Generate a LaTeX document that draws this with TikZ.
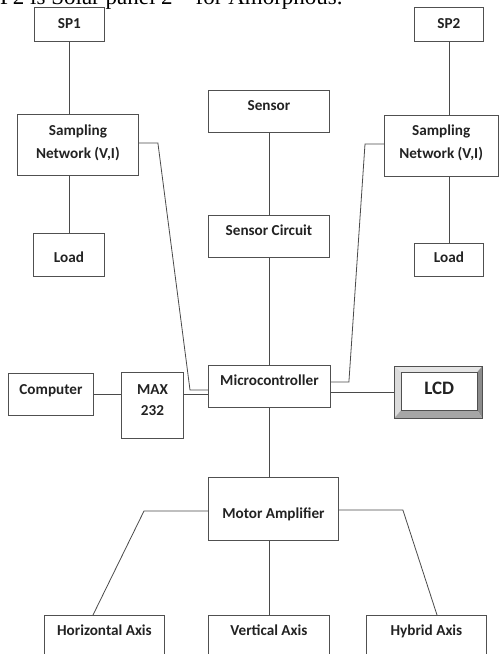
\documentclass[tikz,border=0pt]{standalone}
\usepackage{fontspec}
\setmainfont{Carlito}
\newfontfamily\serifhead{Liberation Serif}
\usetikzlibrary{calc}
\definecolor{wiregray}{HTML}{4A4A4A}
\definecolor{boxgray}{HTML}{505050}
\definecolor{inkgray}{HTML}{222222}
\tikzset{
  blk/.style={draw=boxgray, line width=0.9pt, inner sep=0pt, text=inkgray,
    font=\bfseries\fontsize{15.2}{23}\selectfont, align=center},
  wire/.style={draw=wiregray, line width=0.8pt},
}
% box from its corners (x1,y1)-(x2,y2) with the text baseline at y = #6
\newcommand\putbox[7]{%
  \pgfmathsetmacro\bw{#4-#2}\pgfmathsetmacro\bh{#5-#3}%
  \pgfmathsetmacro\th{#6-#3}\pgfmathsetmacro\td{#5-#6}%
  \node[blk, anchor=north west, minimum width=\bw pt, minimum height=\bh pt,
        text height=\th pt, text depth=\td pt] (#1) at (#2,#3) {#7};%
}
\begin{document}
\begin{tikzpicture}[x=1pt,y=-1pt]
\useasboundingbox (0,0) rectangle (499,654);
\clip (0,0) rectangle (499,654);

% running text of the page above the figure
\node[anchor=base west, inner sep=0pt, text=black,
      font=\serifhead\fontsize{23}{23}\selectfont] (caption) at (0,4)
  {P2 is Solar panel 2 – for Amorphous.};

% blocks
\putbox{sp1}{34}{7}{104}{41}{28}{SP1}
\putbox{sp2}{414}{7}{483}{41}{28}{SP2}
\putbox{sn1}{17}{114}{138}{175}{158}{Sampling\\Network (V,I)}
\putbox{sn2}{384}{115}{497.5}{176}{158}{Sampling\\Network (V,I)}
\putbox{load1}{33}{233}{104}{276}{262}{Load}
\putbox{load2}{414}{243}{483}{276}{262}{Load}
\putbox{sensor}{208}{90}{329}{132}{110}{Sensor}
\putbox{sensc}{208}{215}{329}{257}{235}{Sensor Circuit}
\putbox{mcu}{208}{365}{330}{407}{385}{Microcontroller}
\putbox{pc}{8}{373}{93}{415}{394}{Computer}
\putbox{max}{121}{372}{183}{438}{415}{MAX\\[-2pt]232}
\putbox{motor}{208}{477}{338}{540}{518}{Motor Amplifier}
\putbox{hax}{44}{615}{164}{664}{635}{Horizontal Axis}
\putbox{vax}{208}{615}{329}{664}{635}{Vertical Axis}
\putbox{hyb}{366}{615}{486}{664}{635}{Hybrid Axis}

% bevelled LCD block
\node[inner sep=0pt, anchor=north west, minimum width=88pt, minimum height=52pt]
  (lcd) at (394,366) {};
\coordinate (iNW) at ($(lcd.north west)+(7,6)$);
\coordinate (iSE) at ($(lcd.south east)+(-5,-8)$);
\coordinate (iNE) at (iSE |- iNW);
\coordinate (iSW) at (iNW |- iSE);
\fill[color=black!10] (lcd.north west) -- (lcd.north east) -- (iNE) -- (iNW) -- cycle;
\fill[color=black!14] (lcd.north west) -- (iNW) -- (iSW) -- (lcd.south west) -- cycle;
\fill[color=black!45] (lcd.north east) -- (lcd.south east) -- (iSE) -- (iNE) -- cycle;
\fill[color=black!35] (lcd.south west) -- (lcd.south east) -- (iSE) -- (iSW) -- cycle;
\draw[boxgray, line width=0.9pt] (lcd.north west) rectangle (lcd.south east);
\draw[boxgray, line width=0.8pt] (iNW) rectangle (iSE);
\node[inner sep=0pt, anchor=base, text=inkgray,
      font=\bfseries\fontsize{19}{19}\selectfont] (lcdtext) at ($(iNW)!0.5!(iNE)+(0,22)$) {LCD};

% connectors
\draw[wire] (sp1.south) -- (sp1.south |- sn1.north);
\draw[wire] (load1.north |- sn1.south) -- (load1.north);
\draw[wire] (sp2.south) -- (sp2.south |- sn2.north);
\draw[wire] (load2.north |- sn2.south) -- (load2.north);
\draw[wire] (sensor.south) -- (sensc.north);
\draw[wire] (sensc.south) -- (sensc.south |- mcu.north);
\draw[wire] (sensc.south |- mcu.south) -- (sensc.south |- motor.north);
\draw[wire] (sensc.south |- motor.south) -- (vax.north);
\draw[wire] ($(sn1.north east)+(0,29)$) -- ++(19,0)
  -- ($(mcu.north west)+(-18,25)$) -- ($(mcu.north west)+(0,25)$);
\draw[wire] ($(mcu.north east)+(0,17)$) -- ++(18,0)
  -- ($(sn2.north west)+(-19,29)$) -- ($(sn2.north west)+(0,29)$);
\draw[wire] (pc.east) -- (pc.east -| max.west);
\draw[wire] (max.east |- pc.east) -- (mcu.west |- pc.east);
\draw[wire] (lcd.west -| mcu.east) -- (lcd.west);
\draw[wire] ($(motor.north west)+(0,34)$) -- ++(-64,0) -- ($(hax.north west)+(49,0)$);
\draw[wire] ($(motor.north east)+(0,33)$) -- ++(64,0) -- ($(hyb.north west)+(71,0)$);
\end{tikzpicture}
\end{document}
